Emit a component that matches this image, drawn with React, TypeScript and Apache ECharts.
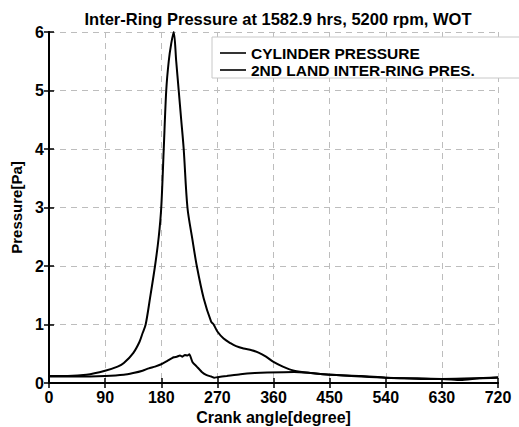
import React, { useEffect, useRef } from "react";
import * as echarts from "echarts";

const titleText = "Inter-Ring Pressure at 1582.9 hrs, 5200 rpm, WOT";
const xLabel = "Crank angle[degree]";
const yLabel = "Pressure[Pa]";
const seriesNames = ["CYLINDER PRESSURE", "2ND LAND INTER-RING PRES."];

const cylAngle = [0, 30, 60, 90, 110, 120, 135, 145, 150, 155, 162, 170, 176, 180, 184, 188, 192, 196, 200, 204, 208, 212, 216, 222, 230, 237, 248, 260, 264, 270, 280, 291, 300, 312, 325, 336, 348, 360, 375, 393, 420, 452, 500, 540, 590, 630, 680, 720];
const cylValues = [0.12, 0.12, 0.14, 0.21, 0.28, 0.34, 0.51, 0.7, 0.85, 1.0, 1.45, 2.0, 2.5, 3.0, 4.0, 5.0, 5.5, 5.8, 6.0, 5.5, 5.0, 4.5, 4.0, 3.0, 2.45, 2.0, 1.45, 1.05, 1.0, 0.88, 0.76, 0.68, 0.63, 0.59, 0.56, 0.52, 0.45, 0.36, 0.28, 0.21, 0.17, 0.14, 0.11, 0.09, 0.08, 0.07, 0.08, 0.1];

const ringAngle = [0, 45, 90, 120, 135, 150, 160, 170, 180, 190, 200, 205, 210, 214, 218, 222, 225, 230, 237, 245, 252, 260, 265, 270, 285, 307, 330, 350, 393, 420, 452, 500, 540, 570, 600, 630, 660, 690, 720];
const ringValues = [0.11, 0.11, 0.12, 0.14, 0.17, 0.21, 0.25, 0.28, 0.32, 0.38, 0.44, 0.45, 0.47, 0.45, 0.48, 0.47, 0.49, 0.36, 0.28, 0.19, 0.14, 0.11, 0.09, 0.1, 0.12, 0.15, 0.17, 0.18, 0.19, 0.17, 0.14, 0.12, 0.09, 0.08, 0.07, 0.07, 0.05, 0.08, 0.09];

const xTicks = [0, 90, 180, 270, 360, 450, 540, 630, 720];
const yTicks = [0, 1, 2, 3, 4, 5, 6];

const FONT = "'Liberation Sans', Arial, sans-serif";

export default function App() {
  const ref = useRef<HTMLDivElement>(null);
  useEffect(() => {
    if (!ref.current) return;
    const chart = echarts.init(ref.current, undefined, { renderer: "svg" });
    const cyl = cylAngle.map((a, i) => [a, cylValues[i]]);
    const ring = ringAngle.map((a, i) => [a, ringValues[i]]);
    const axisLine = { show: true, lineStyle: { color: "#000", width: 2 } };
    const tickBase = { show: true, inside: true, length: 5, lineStyle: { color: "#000", width: 1.5 } };
    const label = { color: "#000", fontFamily: FONT, fontWeight: "bold" as const, fontSize: 16 };
    chart.setOption({
      animation: false,
      backgroundColor: "#fff",
      title: {
        text: titleText,
        left: 273,
        textAlign: "center",
        top: 5,
        textStyle: { color: "#000", fontFamily: FONT, fontWeight: "bold", fontSize: 16.5 },
      },
      grid: { left: 49, right: 21, top: 32, bottom: 44, containLabel: false, outerBoundsMode: "none" },
      legend: {
        orient: "vertical",
        left: 212,
        top: 37,
        padding: [8, 66, 0, 8],
        itemWidth: 26,
        itemHeight: 14,
        itemGap: 1,
        backgroundColor: "#fff",
        borderColor: "#c8c8c8",
        borderWidth: 1,
        textStyle: { color: "#000", fontFamily: FONT, fontWeight: "bold", fontSize: 15.5 },
        data: seriesNames.map((n) => ({ name: n, icon: "path://M0,0 L26,0 L26,1.6 L0,1.6 Z", itemStyle: { color: "#000" } })),
      },
      xAxis: [
        {
          type: "value",
          min: 0,
          max: 720,
          interval: 90,
          name: xLabel,
          nameLocation: "middle",
          nameGap: 23,
          nameTextStyle: { ...label },
          axisLine,
          axisTick: tickBase,
          axisLabel: { ...label, margin: 6 },
          splitLine: { show: true, lineStyle: { color: "#bdbdbd", type: [6, 5], width: 1 } },
        },
        {
          type: "value",
          position: "top",
          min: 0,
          max: 720,
          interval: 90,
          axisLine,
          axisTick: tickBase,
          axisLabel: { show: false },
          splitLine: { show: false },
        },
      ],
      yAxis: [
        {
          type: "value",
          min: 0,
          max: 6,
          interval: 1,
          name: yLabel,
          nameLocation: "middle",
          nameGap: 14,
          nameTextStyle: { ...label, fontSize: 15 },
          axisLine,
          axisTick: tickBase,
          axisLabel: { ...label, margin: 5 },
          splitLine: { show: true, lineStyle: { color: "#bdbdbd", type: [6, 5], width: 1 } },
        },
        {
          type: "value",
          position: "right",
          min: 0,
          max: 6,
          interval: 1,
          axisLine,
          axisTick: tickBase,
          axisLabel: { show: false },
          splitLine: { show: false },
        },
      ],
      series: [
        {
          name: seriesNames[0],
          type: "line",
          data: cyl,
          symbol: "none",
          smooth: 0.3,
          lineStyle: { color: "#000", width: 2 },
          itemStyle: { color: "#000" },
        },
        {
          name: seriesNames[1],
          type: "line",
          data: ring,
          symbol: "none",
          smooth: 0.2,
          lineStyle: { color: "#000", width: 2 },
          itemStyle: { color: "#000" },
        },
      ],
    });
    return () => chart.dispose();
  }, []);
  return <div ref={ref} style={{ width: 519, height: 427, position: "absolute", left: 0, top: 0 }} />;
}
